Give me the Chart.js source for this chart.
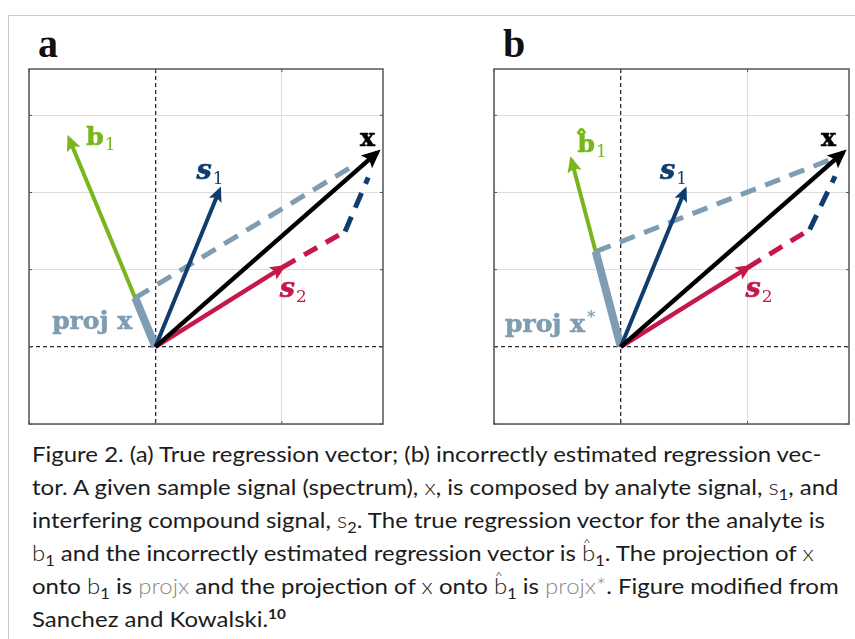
<!DOCTYPE html>
<html>
<head>
<meta charset="utf-8">
<script src="https://cdn.jsdelivr.net/npm/chart.js@4/dist/chart.umd.min.js"></script>
<style>
body{margin:0;background:#fff;width:855px;height:639px;overflow:hidden;position:relative}
#frame{position:absolute;left:8px;top:15px;right:-2px;bottom:-2px;border-top:1.5px solid #cbcbcb;border-left:1.5px solid #cbcbcb}
canvas{position:absolute;top:0}
.letter{position:absolute;font:bold 40px 'Liberation Serif',serif;line-height:40px;color:#111}
#caption{position:absolute;left:32px;top:437px;font:22px Lato,sans-serif;line-height:33px;color:#1c1c1c;white-space:nowrap;transform:scaleX(1.09);transform-origin:0 0}
#caption .v{font-weight:300;color:#222}
#caption .g{font-weight:300;color:#8a8a8a}
#caption sub{font-size:15px;font-weight:400;vertical-align:-5px;line-height:0;color:#1c1c1c}
#caption sup{font-size:14px;font-weight:700;vertical-align:8px;line-height:0}
#caption .hat{position:relative}
#caption .hat::before{content:'^';position:absolute;left:1px;top:-13px;font-size:12px;font-weight:300}
</style>
</head>
<body>
<div id="frame"></div>
<div class="letter" style="left:38px;top:24px">a</div>
<div class="letter" style="left:503px;top:24px">b</div>
<canvas id="panelA" width="430" height="430" style="left:0"></canvas>
<canvas id="panelB" width="425" height="430" style="left:430px"></canvas>
<div id="caption">Figure 2. (a) True regression vector; (b) incorrectly estimated regression vec-<br>tor. A given sample signal (spectrum), <span class="v">x</span>, is composed by analyte signal, <span class="v">s<sub>1</sub></span>, and<br>interfering compound signal, <span class="v">s<sub>2</sub></span>. The true regression vector for the analyte is<br><span class="v">b<sub>1</sub></span> and the incorrectly estimated regression vector is <span class="v hat">b<sub>1</sub></span>. The projection of <span class="v">x</span><br>onto <span class="v">b<sub>1</sub></span> is <span class="g">projx</span> and the projection of <span class="v">x</span> onto <span class="v hat">b<sub>1</sub></span> is <span class="g">projx*</span>. Figure modified from<br>Sanchez and Kowalski.<sup>10</sup></div>
<script>
// axes (grid units)
const xRange = [-1, 1.8];
const yRange = [-1, 3.6];
const xTicks = [-1, 0, 1];
const yTicks = [-1, 0, 1, 2, 3];

// vectors
const origin = [0, 0];
const xVec = [1.755, 2.52];
const s1Vec = [0.506, 2.03];
const s2Vec = [1.004, 1.03];

// panel a: true regression vector
const b1True = [-0.683, 2.70];
const projTrue = [-0.160, 0.635];
const guideTrue = [1.556, 2.338];
const s2CornerA = [1.50, 1.494];
const s1EndA = [1.683, 2.195];

// panel b: estimated regression vector
const b1Est = [-0.389, 2.42];
const projEst = [-0.198, 1.234];
const guideEst = [1.675, 2.44];
const s2CornerB = [1.49, 1.52];
const s1EndB = [1.69, 2.21];

const GREEN = '#78b61c', BLUE = '#0f3d6e', RED = '#c5174a', GRAY = '#7f9db2', BLACK = '#000';

function seg(p, q) { return [{x: p[0], y: p[1]}, {x: q[0], y: q[1]}]; }

function vec(data, color, width, head, dash) {
  return {data: seg(data[0], data[1]), borderColor: color, borderWidth: width, head: head,
    borderDash: dash || [], showLine: true, pointRadius: 0, fill: false, tension: 0, borderCapStyle: 'butt'};
}

function scaleOpts(r, ticks) {
  return {
    type: 'linear', min: r[0], max: r[1],
    afterBuildTicks: s => { s.ticks = ticks.map(v => ({value: v})); },
    ticks: {display: false},
    grid: {
      drawTicks: false,
      color: c => c.tick && c.tick.value === 0 ? '#2a2a2a' : '#dddddd',
      lineWidth: c => c.tick && c.tick.value === 0 ? 1.3 : 1
    },
    border: {display: false, dash: c => c.tick && c.tick.value === 0 ? [4, 3] : []}
  };
}

const vectorPlugin = {
  id: 'vectors',
  afterDatasetsDraw(chart) {
    const ctx = chart.ctx;
    chart.data.datasets.forEach((ds, i) => {
      if (!ds.head) return;
      const pts = chart.getDatasetMeta(i).data;
      const a = pts[0], b = pts[1];
      const ang = Math.atan2(b.y - a.y, b.x - a.x);
      const L = ds.head, W = ds.head * 0.45;
      const ext = ds.borderWidth * 1.0;
      ctx.save();
      ctx.translate(b.x, b.y);
      ctx.rotate(ang);
      ctx.beginPath();
      ctx.moveTo(ext, 0);
      ctx.lineTo(ext - L, -W);
      ctx.lineTo(ext - L * 0.8, 0);
      ctx.lineTo(ext - L, W);
      ctx.closePath();
      ctx.fillStyle = ds.borderColor;
      ctx.fill();
      ctx.restore();
    });
    // labels
    const labels = chart.options.plugins.vectors.labels;
    const xs = chart.scales.x, ys = chart.scales.y;
    labels.forEach(l => {
      let px = xs.getPixelForValue(l.at[0]), py = ys.getPixelForValue(l.at[1]);
      ctx.save();
      ctx.fillStyle = l.color;
      ctx.strokeStyle = l.color;
      ctx.lineWidth = 0.6;
      ctx.textBaseline = 'alphabetic';
      ctx.textAlign = 'left';
      ctx.font = l.font;
      ctx.fillText(l.text, px, py);
      ctx.strokeText(l.text, px, py);
      const w = ctx.measureText(l.text).width;
      if (l.sub) {
        ctx.font = "17px 'DejaVu Serif'";
        ctx.fillText(l.sub, px + w + 1, py + 5);
      }
      if (l.sup) {
        ctx.font = "bold 16px 'DejaVu Serif'";
        ctx.fillText(l.sup, px + w + 2, py - 10);
      }
      ctx.restore();
    });
  },
  afterDraw(chart) {
    const ctx = chart.ctx, a = chart.chartArea;
    const xs = chart.scales.x, ys = chart.scales.y;
    ctx.save();
    ctx.strokeStyle = '#555';
    ctx.lineWidth = 1.5;
    ctx.strokeRect(a.left, a.top, a.right - a.left, a.bottom - a.top);
    ctx.lineWidth = 1;
    ctx.beginPath();
    xTicks.forEach(v => {
      const p = xs.getPixelForValue(v);
      ctx.moveTo(p, a.top); ctx.lineTo(p, a.top + 3);
      ctx.moveTo(p, a.bottom); ctx.lineTo(p, a.bottom - 3);
    });
    yTicks.forEach(v => {
      const p = ys.getPixelForValue(v);
      ctx.moveTo(a.left, p); ctx.lineTo(a.left + 3, p);
      ctx.moveTo(a.right, p); ctx.lineTo(a.right - 3, p);
    });
    ctx.stroke();
    ctx.restore();
  }
};

function makePanel(id, padding, parts, labels) {
  new Chart(document.getElementById(id), {
    type: 'scatter',
    data: {datasets: [
      vec([origin, xVec], BLACK, 4.5, 19),
      vec([origin, s2Vec], RED, 4.5, 16),
      vec([origin, s1Vec], BLUE, 4, 15),
      vec([origin, parts.proj], GRAY, 8, 0),
      vec([parts.proj, parts.guide], GRAY, 5, 0, [16, 10]),
      vec([origin, parts.b1], GREEN, 4, 16),
      vec([s2Vec, parts.corner], RED, 5, 0, [15, 10]),
      vec([parts.corner, parts.s1End], BLUE, 5, 0, [16, 10])
    ]},
    options: {
      responsive: false,
      animation: false,
      layout: {padding: padding},
      scales: {x: scaleOpts(xRange, xTicks), y: scaleOpts(yRange, yTicks)},
      plugins: {legend: {display: false}, tooltip: {enabled: false}, vectors: {labels: labels}}
    },
    plugins: [vectorPlugin]
  });
}

const serifB = "bold 25px 'DejaVu Serif'";
const serifBI = "italic bold 27px 'DejaVu Serif'";

makePanel('panelA', {left: 29, top: 69, right: 47, bottom: 6},
  {proj: projTrue, guide: guideTrue, b1: b1True, corner: s2CornerA, s1End: s1EndA},
  [
    {at: [-0.548, 2.61], text: 'b', sub: '1', font: serifB, color: GREEN},
    {at: [0.325, 2.17], text: 's', sub: '1', font: serifBI, color: BLUE},
    {at: [1.619, 2.60], text: 'x', font: serifB, color: BLACK},
    {at: [0.984, 0.649], text: 's', sub: '2', font: serifBI, color: RED},
    {at: [-0.817, 0.234], text: 'proj x', font: serifB, color: GRAY}
  ]);

makePanel('panelB', {left: 64, top: 69, right: 6, bottom: 6},
  {proj: projEst, guide: guideEst, b1: b1Est, corner: s2CornerB, s1End: s1EndB},
  [
    {at: [-0.341, 2.52], text: 'b\u0302', sub: '1', font: serifB, color: GREEN},
    {at: [0.31, 2.17], text: 's', sub: '1', font: serifBI, color: BLUE},
    {at: [1.579, 2.60], text: 'x', font: serifB, color: BLACK},
    {at: [0.984, 0.649], text: 's', sub: '2', font: serifBI, color: RED},
    {at: [-0.913, 0.195], text: 'proj x', sup: '*', font: serifB, color: GRAY}
  ]);
</script>
</body>
</html>
